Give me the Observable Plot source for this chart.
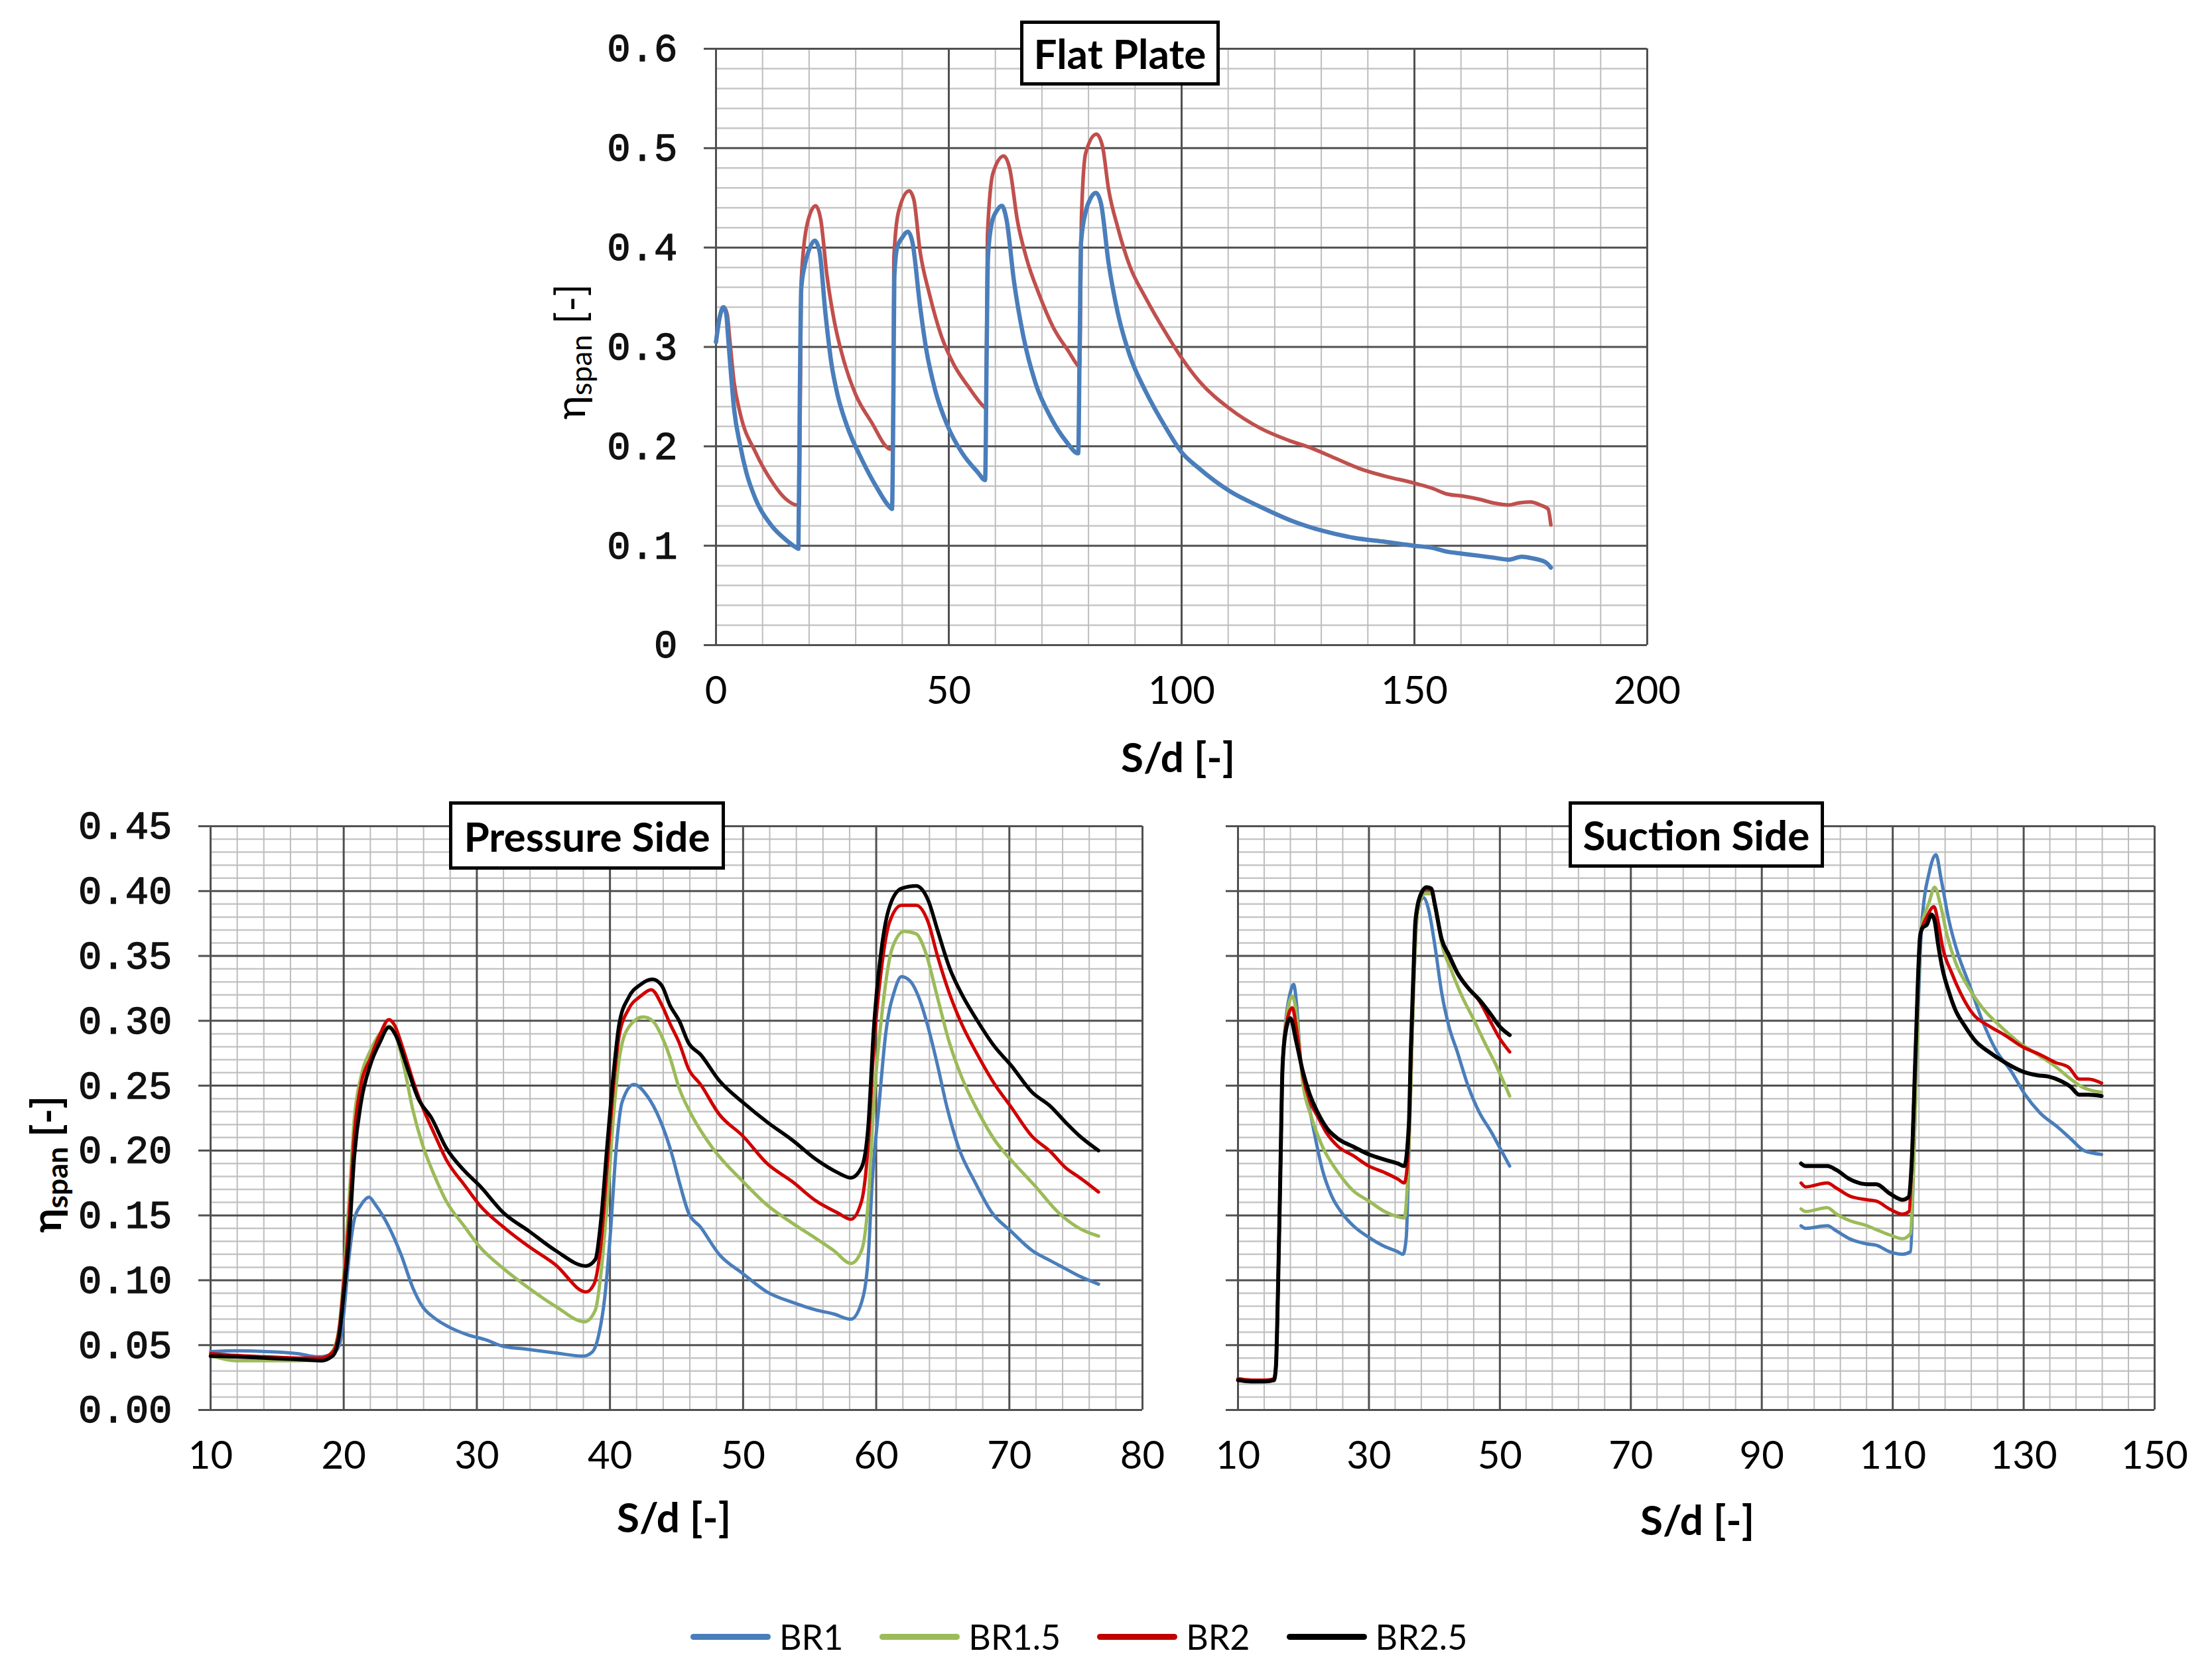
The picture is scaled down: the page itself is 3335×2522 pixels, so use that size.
<!DOCTYPE html>
<html><head><meta charset="utf-8">
<script src="https://cdn.jsdelivr.net/npm/d3@7"></script>
<script src="https://cdn.jsdelivr.net/npm/@observablehq/plot@0.6"></script>
<style>
html,body{margin:0;padding:0;background:#fff;}
#root{position:relative;width:3335px;height:2522px;background:#fff;overflow:hidden;font-family:Lato,"Open Sans",sans-serif;color:#000;}
.panel{position:absolute;}
.title{position:absolute;box-sizing:border-box;border:5px solid #000;background:#fff;display:flex;align-items:center;justify-content:center;font-weight:700;font-size:62px;font-family:Lato,sans-serif;color:#000;white-space:nowrap;}
.xt{position:absolute;transform:translate(-50%,-50%);font-weight:700;font-size:62px;white-space:nowrap;}
.yt{position:absolute;transform:translate(-50%,-50%) rotate(-90deg);font-size:62px;white-space:nowrap;line-height:1;}
.yt sub{font-size:0.72em;vertical-align:-0.22em;}
.legend{position:absolute;left:1041px;top:2467px;transform:translateY(-50%);display:flex;align-items:center;gap:55px;font-size:52px;font-family:Lato,sans-serif;}
.item{display:flex;align-items:center;}
.swatch{width:121px;height:9px;border-radius:5px;margin-right:13px;}
</style></head>
<body><div id="root"></div>
<script>
// ---------- DATA ----------
const seriesNames = ["BR1", "BR1.5", "BR2", "BR2.5"];

const flatXTicks = [0, 50, 100, 150, 200];
const flatYTicks = [0, 0.1, 0.2, 0.3, 0.4, 0.5, 0.6];
const psXTicks = [10, 20, 30, 40, 50, 60, 70, 80];
const psYTicks = [0, 0.05, 0.10, 0.15, 0.20, 0.25, 0.30, 0.35, 0.40, 0.45];
const ssXTicks = [10, 30, 50, 70, 90, 110, 130, 150];

// Flat plate (blue and red curves)
const flatBlue = [[0,0.305],[0.8,0.33],[1.6,0.34],[2.2,0.333],[2.6,0.31],[3.3,0.268],[3.9,0.237],[5.2,0.201],[6.5,0.174],[8.5,0.147],[11.8,0.121],[15,0.106],[17.3,0.098],[17.7,0.097],[18.0,0.25],[18.3,0.358],[19,0.381],[20,0.398],[21.2,0.407],[22.2,0.397],[23.5,0.334],[24.8,0.283],[26.1,0.252],[28.1,0.221],[31.4,0.186],[34.6,0.158],[37.3,0.139],[37.8,0.137],[38.1,0.25],[38.3,0.37],[38.9,0.40],[40,0.41],[41.2,0.416],[42.2,0.405],[43.8,0.342],[45.1,0.299],[47.1,0.256],[49.7,0.221],[52.9,0.193],[56.2,0.174],[57.8,0.166],[58.1,0.28],[58.4,0.389],[59.2,0.424],[60.3,0.437],[61.4,0.442],[62.4,0.428],[64,0.366],[66,0.311],[68.6,0.264],[71.9,0.229],[75.2,0.205],[77.8,0.193],[78.1,0.3],[78.4,0.405],[79.4,0.436],[80.5,0.45],[81.6,0.455],[82.7,0.444],[84.3,0.385],[86.3,0.334],[88.9,0.291],[92.2,0.256],[96.7,0.218],[100,0.194],[103.7,0.178],[110.3,0.155],[117,0.139],[123.7,0.125],[130.3,0.115],[137,0.108],[143.7,0.104],[150,0.10],[153.7,0.098],[157,0.094],[160.3,0.092],[163.7,0.09],[167,0.088],[170.3,0.086],[173,0.089],[175.7,0.087],[178.3,0.083],[179.3,0.078]];
const flatRed = [[0,0.305],[0.8,0.33],[1.7,0.34],[2.4,0.333],[2.9,0.31],[3.9,0.264],[5.2,0.233],[8.5,0.194],[11.8,0.166],[15,0.147],[17.3,0.141],[17.9,0.141],[18.3,0.366],[19.6,0.424],[21.4,0.442],[22.5,0.428],[23.8,0.373],[25.4,0.326],[27.4,0.287],[30,0.252],[33.3,0.225],[37.6,0.197],[38.0,0.197],[38.2,0.389],[39.2,0.436],[41.5,0.457],[42.5,0.448],[43.8,0.397],[45.8,0.354],[48.4,0.311],[51,0.283],[54.2,0.26],[57.5,0.24],[58.0,0.238],[58.3,0.412],[59.5,0.475],[61.8,0.492],[63.1,0.479],[64.7,0.428],[66.7,0.389],[69.3,0.354],[72.5,0.319],[75.8,0.295],[77.8,0.281],[78.1,0.28],[78.5,0.432],[79.4,0.495],[81.7,0.514],[83,0.502],[84.3,0.459],[86.3,0.42],[88.9,0.381],[92.2,0.35],[97,0.311],[100,0.289],[103.7,0.266],[110.3,0.238],[117,0.218],[123,0.206],[128,0.198],[133,0.188],[138,0.178],[143.7,0.17],[150,0.163],[153.7,0.158],[157,0.152],[160.3,0.15],[163.7,0.147],[167,0.143],[170.3,0.141],[172.3,0.143],[175,0.144],[177,0.141],[178.7,0.137],[179.3,0.121]];

// Pressure side
const psBR1 = [[10,0.045],[11.9,0.0456],[14.2,0.045],[16.5,0.0435],[18.1,0.041],[19.2,0.0435],[19.7,0.051],[20,0.074],[20.4,0.118],[20.8,0.147],[21.3,0.158],[21.9,0.164],[22.4,0.158],[23.4,0.141],[24.3,0.12],[25.2,0.094],[25.9,0.08],[26.8,0.071],[27.9,0.064],[29.3,0.058],[30.7,0.054],[32,0.049],[33.6,0.047],[35.9,0.044],[38,0.0415],[38.7,0.045],[39.2,0.06],[39.6,0.086],[40,0.132],[40.5,0.205],[40.9,0.237],[41.8,0.251],[42.8,0.242],[43.7,0.225],[44.6,0.199],[45.2,0.176],[45.9,0.152],[46.8,0.141],[48.2,0.12],[50,0.105],[51.8,0.091],[53.7,0.083],[55.5,0.077],[56.8,0.074],[58.1,0.07],[58.9,0.083],[59.4,0.118],[59.7,0.176],[60.2,0.234],[60.7,0.289],[61.4,0.324],[61.9,0.334],[62.6,0.33],[63.2,0.318],[63.9,0.295],[64.6,0.266],[65.3,0.234],[66.2,0.202],[67.4,0.176],[68.7,0.152],[70.1,0.138],[71.7,0.123],[73.1,0.115],[74.2,0.109],[75.3,0.103],[76.7,0.097]];
const psBR15 = [[10,0.042],[11.9,0.038],[14.2,0.038],[16.5,0.038],[18.3,0.039],[19.2,0.046],[19.7,0.068],[20,0.103],[20.4,0.161],[20.8,0.225],[21.3,0.257],[22,0.277],[22.7,0.29],[23.4,0.296],[23.9,0.289],[24.5,0.266],[25.2,0.231],[25.9,0.205],[26.8,0.181],[27.7,0.161],[29.1,0.141],[30.2,0.126],[32,0.109],[33.9,0.094],[35.9,0.08],[38.1,0.068],[38.9,0.077],[39.3,0.103],[39.8,0.161],[40.3,0.231],[40.7,0.271],[41.4,0.295],[42.5,0.303],[43.2,0.30],[44.1,0.283],[44.5,0.272],[45.2,0.248],[46.1,0.228],[47.7,0.202],[50,0.176],[51.8,0.158],[53.7,0.144],[55.5,0.132],[56.8,0.123],[58.1,0.113],[58.9,0.123],[59.4,0.161],[59.8,0.234],[60.5,0.312],[61.2,0.356],[62.1,0.369],[63,0.367],[63.7,0.353],[64.6,0.318],[65.5,0.283],[66.4,0.257],[67.6,0.231],[68.9,0.208],[70.1,0.193],[71.9,0.173],[73.7,0.152],[75.1,0.141],[76.7,0.134]];
const psBR2 = [[10,0.0435],[11.9,0.042],[14.2,0.041],[16.5,0.04],[18.3,0.04],[19.2,0.045],[19.7,0.065],[20,0.097],[20.4,0.147],[20.8,0.213],[21.3,0.251],[22,0.271],[22.7,0.289],[23.4,0.301],[23.8,0.297],[24.5,0.277],[25.2,0.254],[25.9,0.234],[26.8,0.213],[27.7,0.193],[29.1,0.173],[30.2,0.158],[32,0.141],[33.9,0.126],[35.9,0.112],[38.2,0.091],[38.8,0.097],[39.3,0.126],[39.8,0.19],[40.3,0.254],[40.7,0.289],[41.4,0.309],[42.3,0.319],[43.1,0.324],[43.9,0.312],[44.5,0.298],[45.2,0.283],[45.9,0.263],[46.8,0.251],[48.2,0.228],[50,0.211],[51.8,0.19],[53.7,0.176],[55.5,0.161],[57.1,0.152],[58.1,0.147],[58.9,0.161],[59.4,0.205],[59.8,0.277],[60.4,0.341],[61,0.376],[61.9,0.389],[63,0.389],[63.9,0.376],[64.6,0.35],[65.5,0.321],[66.4,0.298],[67.6,0.274],[68.9,0.251],[70.1,0.234],[71.7,0.211],[73.1,0.199],[74.2,0.187],[75.3,0.179],[76.7,0.168]];
const psBR25 = [[10,0.0415],[11.9,0.041],[14.2,0.04],[16.5,0.039],[18.3,0.038],[19.2,0.042],[19.7,0.06],[20,0.089],[20.4,0.132],[20.8,0.196],[21.3,0.237],[22,0.266],[22.7,0.283],[23.4,0.295],[23.9,0.289],[24.7,0.266],[25.6,0.24],[26.6,0.225],[27.7,0.202],[29.1,0.184],[30.2,0.173],[32,0.152],[33.9,0.138],[35.9,0.123],[38.2,0.111],[38.9,0.116],[39.3,0.144],[39.8,0.205],[40.3,0.263],[40.7,0.298],[41.4,0.318],[42.3,0.328],[43.2,0.332],[43.9,0.327],[44.5,0.312],[45.2,0.30],[45.9,0.283],[46.8,0.274],[48.2,0.254],[50,0.237],[51.8,0.222],[53.7,0.208],[55.5,0.193],[57.1,0.183],[58.1,0.179],[58.9,0.187],[59.4,0.219],[59.8,0.292],[60.4,0.356],[61,0.388],[61.9,0.402],[63,0.404],[63.9,0.393],[64.6,0.37],[65.5,0.341],[66.4,0.321],[67.6,0.30],[68.9,0.28],[70.1,0.266],[71.7,0.245],[73.1,0.234],[74.2,0.222],[75.3,0.211],[76.7,0.20]];

// Suction side (null marks the gap in the measured range)
const ssBR1 = [[10,0.024],[12,0.023],[14,0.023],[15.5,0.024],[15.8,0.034],[16.1,0.09],[16.5,0.19],[16.8,0.264],[17.3,0.30],[18,0.322],[18.5,0.328],[19,0.31],[19.5,0.273],[20.5,0.244],[21.6,0.215],[22.9,0.185],[24.3,0.165],[26,0.151],[27.6,0.142],[30,0.133],[32.4,0.126],[34.4,0.122],[35.2,0.12],[35.7,0.133],[36.2,0.22],[36.8,0.322],[37.4,0.383],[38.3,0.395],[39.1,0.386],[40.1,0.357],[41.1,0.322],[42.2,0.296],[43.5,0.276],[45.2,0.249],[46.9,0.229],[48.6,0.215],[49.9,0.203],[51.5,0.188],[70,null],[96,0.142],[96.7,0.14],[100,0.142],[101.4,0.138],[103.4,0.132],[106.1,0.128],[107.5,0.127],[109.5,0.122],[111.5,0.12],[112.7,0.122],[113.2,0.191],[113.7,0.278],[114.4,0.372],[115.6,0.415],[116.6,0.428],[117.4,0.409],[118.6,0.377],[120,0.351],[121.7,0.328],[123.7,0.30],[125.7,0.278],[128.1,0.261],[130.1,0.244],[132.5,0.229],[135.2,0.218],[137.2,0.209],[139.2,0.20],[141.9,0.197]];
const ssBR15 = [[10,0.024],[12,0.023],[14,0.023],[15.5,0.024],[15.8,0.034],[16.1,0.09],[16.5,0.19],[16.8,0.264],[17.3,0.298],[18.3,0.319],[18.8,0.31],[19.9,0.252],[21.2,0.226],[22.9,0.203],[25.3,0.183],[27.6,0.169],[30,0.161],[32.4,0.153],[34.4,0.149],[35.4,0.148],[35.9,0.177],[36.4,0.249],[36.9,0.337],[37.6,0.389],[38.6,0.398],[39.5,0.398],[40.5,0.377],[41.1,0.36],[42.5,0.34],[44.2,0.319],[45.9,0.302],[47.6,0.284],[49.3,0.267],[51.5,0.242],[70,null],[96,0.155],[96.7,0.153],[100,0.156],[101.4,0.151],[103.4,0.146],[106.1,0.142],[107.5,0.139],[109.5,0.135],[111.5,0.132],[112.7,0.136],[113.2,0.191],[113.7,0.278],[114.2,0.366],[115.6,0.392],[116.4,0.403],[117.3,0.389],[118.3,0.366],[119.6,0.345],[121.3,0.328],[123.7,0.31],[126.4,0.296],[129.1,0.284],[132.1,0.274],[134.8,0.265],[137.2,0.255],[138.9,0.249],[140.6,0.246],[141.9,0.245]];
const ssBR2 = [[10,0.024],[12,0.023],[14,0.023],[15.5,0.024],[15.8,0.034],[16.1,0.09],[16.5,0.19],[16.8,0.264],[17.3,0.295],[18.3,0.31],[18.9,0.295],[19.9,0.258],[21,0.238],[22.2,0.226],[23.6,0.213],[25.3,0.203],[27.6,0.196],[30,0.188],[32.4,0.183],[34.4,0.178],[35.4,0.175],[35.9,0.191],[36.4,0.27],[36.8,0.335],[37.1,0.375],[37.8,0.395],[38.8,0.402],[39.5,0.401],[40.1,0.388],[41.1,0.363],[42.2,0.35],[43.5,0.337],[45.2,0.325],[46.9,0.315],[48.6,0.299],[49.9,0.287],[51.5,0.276],[70,null],[96,0.175],[96.7,0.172],[100,0.175],[101.4,0.171],[103.4,0.165],[106.1,0.162],[107.5,0.161],[109.5,0.155],[111.5,0.151],[112.5,0.153],[112.9,0.191],[113.5,0.278],[114.2,0.366],[115.2,0.38],[116.3,0.388],[116.9,0.377],[117.6,0.357],[119,0.337],[120.3,0.322],[122.3,0.305],[124.7,0.296],[127.1,0.289],[129.8,0.28],[132.5,0.274],[134.8,0.268],[136.9,0.264],[138.5,0.255],[139.9,0.255],[141.9,0.252]];
const ssBR25 = [[10,0.023],[12,0.022],[14,0.022],[15.5,0.023],[15.8,0.034],[16.1,0.09],[16.5,0.19],[16.8,0.264],[17.3,0.292],[18,0.302],[18.9,0.284],[19.9,0.261],[20.9,0.244],[22.2,0.229],[23.6,0.217],[25.3,0.209],[27.6,0.203],[30,0.197],[32.4,0.193],[34.4,0.19],[35.4,0.188],[36.1,0.22],[36.4,0.278],[36.8,0.337],[37.1,0.377],[37.8,0.396],[38.8,0.403],[39.5,0.402],[40.1,0.389],[41.1,0.363],[42.2,0.351],[43.5,0.337],[45.2,0.325],[46.9,0.316],[48.6,0.305],[49.9,0.296],[51.5,0.289],[70,null],[96,0.19],[96.7,0.188],[100,0.188],[101.4,0.185],[103.4,0.178],[106.1,0.174],[107.5,0.174],[109.5,0.167],[111.5,0.162],[112.4,0.164],[112.9,0.191],[113.5,0.278],[114.2,0.366],[114.6,0.372],[115.2,0.374],[115.9,0.382],[116.4,0.377],[116.9,0.36],[117.6,0.34],[118.6,0.322],[119.6,0.308],[121,0.296],[122.7,0.284],[124.7,0.276],[127.1,0.268],[129.8,0.261],[132.1,0.258],[133.8,0.257],[135.5,0.254],[137.2,0.249],[138.5,0.243],[139.9,0.243],[141.9,0.242]];

// ---------- STYLE ----------
const colors = {"BR1": "#4a7ebb", "BR1.5": "#9bbb59", "BR2": "#d00000", "BR2.5": "#000000"};
const legendColors = {"BR1": "#4a7ebb", "BR1.5": "#9bbb59", "BR2": "#c00000", "BR2.5": "#000000"};
const flatColors = {blue: "#4a7ebb", red: "#c0504d"};
const MAJOR = "#505050", MINOR_H = "#c6c6c6", MINOR_V = "#bdbdbd";

const root = document.getElementById("root");

function minorOf(lo, hi, step, majors) {
  return d3.range(lo, hi + step / 2, step).map(v => +v.toFixed(6))
    .filter(v => !majors.some(m => Math.abs(m - v) < 1e-9));
}

function panel(cfg) {
  const marks = [
    Plot.ruleY(minorOf(cfg.yDomain[0], cfg.yDomain[1], cfg.yMinorStep, cfg.yTicks), {stroke: MINOR_H, strokeWidth: 2.5}),
    Plot.ruleX(minorOf(cfg.xDomain[0], cfg.xDomain[1], cfg.xMinorStep, cfg.xTicks), {stroke: MINOR_V, strokeWidth: 2}),
    Plot.ruleY(cfg.yTicks, {stroke: MAJOR, strokeWidth: 3}),
    Plot.ruleX(cfg.xTicks, {stroke: MAJOR, strokeWidth: 3}),
    ...cfg.lines.map(l => Plot.line(l.data, {x: d => d[0], y: d => d[1], stroke: l.color, strokeWidth: l.width, curve: "monotone-x"})),
    Plot.axisY({ticks: cfg.yTicks, tickSize: 18, tickPadding: 40, stroke: MAJOR, strokeWidth: 3,
      tickFormat: cfg.yFormat, fontFamily: "Liberation Mono, DejaVu Sans Mono, monospace", fontSize: 59,
      fill: "#111", textStroke: "#111", textStrokeWidth: 1.3, label: null}),
    Plot.axisX({ticks: cfg.xTicks, tickSize: 0, tickPadding: 47, tickFormat: d => String(d),
      fontFamily: "Lato, Open Sans, sans-serif", fontSize: 58, fill: "#000", label: null})
  ];
  const svg = Plot.plot({
    width: cfg.width, height: cfg.height,
    marginLeft: cfg.mL, marginRight: cfg.mR, marginTop: cfg.mT, marginBottom: cfg.mB,
    x: {domain: cfg.xDomain}, y: {domain: cfg.yDomain},
    style: {background: "transparent", maxWidth: "none", overflow: "visible"},
    marks
  });
  svg.classList.add("panel");
  svg.style.left = cfg.left + "px";
  svg.style.top = cfg.top + "px";
  root.appendChild(svg);
}

// Flat plate: frame 1079..2483 x 73..972
panel({left: 800, top: 0, width: 1800, height: 1200, mL: 279, mR: 117, mT: 73, mB: 228,
  xDomain: [0, 200], yDomain: [0, 0.6], xTicks: flatXTicks, yTicks: flatYTicks, xMinorStep: 10, yMinorStep: 0.02,
  yFormat: d => d === 0 ? "0" : d.toFixed(1),
  lines: [{data: flatRed, color: flatColors.red, width: 5.5}, {data: flatBlue, color: flatColors.blue, width: 6.5}]});

// Pressure side: frame 317..1722 x 1245..2125
panel({left: 0, top: 1200, width: 1800, height: 1200, mL: 317, mR: 78, mT: 45, mB: 275,
  xDomain: [10, 80], yDomain: [0, 0.45], xTicks: psXTicks, yTicks: psYTicks, xMinorStep: 2, yMinorStep: 0.01,
  yFormat: d => d.toFixed(2),
  lines: [{data: psBR1, color: colors["BR1"], width: 5}, {data: psBR15, color: colors["BR1.5"], width: 5},
          {data: psBR2, color: colors["BR2"], width: 5}, {data: psBR25, color: colors["BR2.5"], width: 5.5}]});

// Suction side: frame 1866..3248 x 1245..2125
panel({left: 1780, top: 1200, width: 1555, height: 1200, mL: 86, mR: 87, mT: 45, mB: 275,
  xDomain: [10, 150], yDomain: [0, 0.45], xTicks: ssXTicks, yTicks: psYTicks, xMinorStep: 4, yMinorStep: 0.01,
  yFormat: () => "",
  lines: [{data: ssBR1, color: colors["BR1"], width: 5}, {data: ssBR15, color: colors["BR1.5"], width: 5},
          {data: ssBR2, color: colors["BR2"], width: 5}, {data: ssBR25, color: colors["BR2.5"], width: 6}]});

// ---------- TEXT ----------
function addDiv(cls, html, styles) {
  const d = document.createElement("div");
  d.className = cls; d.innerHTML = html;
  Object.assign(d.style, styles);
  root.appendChild(d);
  return d;
}
addDiv("title", "Flat Plate", {left: "1538px", top: "31px", width: "301px", height: "98px"});
addDiv("title", "Pressure Side", {left: "677px", top: "1208px", width: "416px", height: "103px"});
addDiv("title", "Suction Side", {left: "2365px", top: "1208px", width: "385px", height: "100px"});

addDiv("xt", "S/d [-]", {left: "1776px", top: "1140px"});
addDiv("xt", "S/d [-]", {left: "1016px", top: "2286px"});
addDiv("xt", "S/d [-]", {left: "2559px", top: "2290px"});

addDiv("yt", "η<sub>span</sub> [-]", {left: "862px", top: "530px"});
addDiv("yt", "η<sub>span</sub> [-]", {left: "72px", top: "1755px", fontWeight: "700"});

// Legend
const legend = addDiv("legend", "", {});
seriesNames.forEach(name => {
  const item = document.createElement("div");
  item.className = "item";
  item.innerHTML = `<span class="swatch" style="background:${legendColors[name]}"></span><span>${name}</span>`;
  legend.appendChild(item);
});
</script>
</body></html>
